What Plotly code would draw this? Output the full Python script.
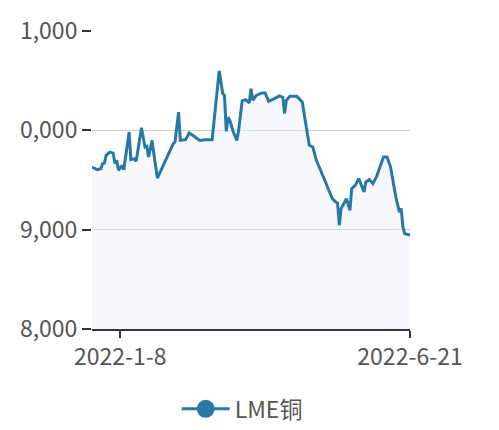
import plotly.graph_objects as go

dates = [
    "2021-12-23", "2021-12-26", "2021-12-28", "2021-12-29", "2021-12-30", "2021-12-31",
    "2022-01-02", "2022-01-04", "2022-01-05", "2022-01-06", "2022-01-07", "2022-01-09",
    "2022-01-10", "2022-01-13", "2022-01-14", "2022-01-16", "2022-01-17", "2022-01-20",
    "2022-01-22", "2022-01-23", "2022-01-24", "2022-01-26", "2022-01-27", "2022-01-29",
    "2022-02-07", "2022-02-08", "2022-02-10", "2022-02-11", "2022-02-14", "2022-02-16",
    "2022-02-18", "2022-02-22", "2022-02-25", "2022-03-01", "2022-03-05", "2022-03-07",
    "2022-03-08", "2022-03-09", "2022-03-10", "2022-03-11", "2022-03-13", "2022-03-15",
    "2022-03-16", "2022-03-18", "2022-03-20", "2022-03-22", "2022-03-23", "2022-03-24",
    "2022-03-26", "2022-03-29", "2022-03-31", "2022-04-02", "2022-04-05", "2022-04-08",
    "2022-04-10", "2022-04-11", "2022-04-12", "2022-04-14", "2022-04-18", "2022-04-21",
    "2022-04-23", "2022-04-25", "2022-04-27", "2022-04-29", "2022-05-03", "2022-05-08",
    "2022-05-10", "2022-05-11", "2022-05-12", "2022-05-13", "2022-05-16", "2022-05-18",
    "2022-05-19", "2022-05-21", "2022-05-23", "2022-05-26", "2022-05-27", "2022-05-29",
    "2022-05-31", "2022-06-02", "2022-06-06", "2022-06-08", "2022-06-10", "2022-06-12",
    "2022-06-13", "2022-06-15", "2022-06-16", "2022-06-17", "2022-06-18", "2022-06-21",
]
lme_copper = [
    9630, 9604, 9614, 9665, 9670, 9748,
    9781, 9771, 9665, 9698, 9597, 9648,
    9604, 9983, 9705, 9715, 9688, 10027,
    9832, 9839, 9731, 9899, 9765, 9520,
    9866, 9882, 10184, 9899, 9906, 9973,
    9950, 9899, 9906, 9906, 10599, 10370,
    10352, 9990, 10131, 10100, 9983, 9899,
    10000, 10297, 10309, 10277, 10420, 10302,
    10352, 10376, 10376, 10292, 10317, 10347,
    10332, 10168, 10302, 10342, 10342, 10285,
    10067, 9849, 9832, 9698, 9530, 9312,
    9278, 9268, 9043, 9212, 9312, 9194,
    9413, 9446, 9514, 9379, 9479, 9504,
    9463, 9530, 9731, 9731, 9630, 9396,
    9328, 9177, 9215, 9026, 8960, 8945,
]
series_name = "LME铜"
y_ticks = [8000, 9000, 10000, 11000]
x_tick_dates = ["2022-01-08", "2022-06-21"]
x_tick_labels = ["2022-1-8", "2022-6-21"]

LINE = "#2878a6"
FONT = "Noto Sans CJK SC, Noto Sans, sans-serif"

fig = go.Figure()
fig.add_trace(go.Scatter(
    x=dates, y=lme_copper, mode="lines", name=series_name,
    line=dict(color=LINE, width=3), fill="tozeroy",
    fillcolor="rgba(236,239,251,0.45)", showlegend=False, hoverinfo="x+y",
))
fig.add_trace(go.Scatter(
    x=[None], y=[None], mode="lines+markers", name=series_name,
    line=dict(color=LINE, width=3),
    marker=dict(color=LINE, size=16, line=dict(color=LINE, width=2)),
    showlegend=True,
))

fig.update_layout(
    width=491, height=422,
    margin=dict(l=84, r=89, t=23, b=101, autoexpand=False),
    paper_bgcolor="white", plot_bgcolor="white",
    font=dict(family=FONT, size=23, color="#555555"),
    showlegend=True,
    legend=dict(orientation="h", xref="container", yref="container",
                x=0.477, xanchor="center", y=0.05, yanchor="middle",
                font=dict(size=23, color="#555555"), itemwidth=48,
                bgcolor="rgba(0,0,0,0)"),
    xaxis=dict(
        type="date", range=[dates[0], dates[-1]], automargin=False,
        tickvals=x_tick_dates, ticktext=x_tick_labels,
        showgrid=False, zeroline=False,
        showline=True, linecolor="#333333", linewidth=1.5,
        ticks="outside", ticklen=7, tickwidth=1.5, tickcolor="#333333",
        tickfont=dict(size=23, color="#555555"),
    ),
    yaxis=dict(
        range=[8000, 11000], tickvals=y_ticks, tickformat=",", automargin=False,
        showgrid=True, gridcolor="#cccccc", gridwidth=1,
        zeroline=False, showline=False,
        ticks="outside", ticklen=9, tickwidth=1.5, tickcolor="#333333",
        tickfont=dict(size=23, color="#555555"),
    ),
    shapes=[dict(type="rect", xref="paper", yref="paper",
                 x0=-84 / 318, x1=(11 - 84) / 318, y0=-0.4, y1=1.2,
                 fillcolor="white", line=dict(width=0), layer="above")],
)

fig.write_html("out.html")
